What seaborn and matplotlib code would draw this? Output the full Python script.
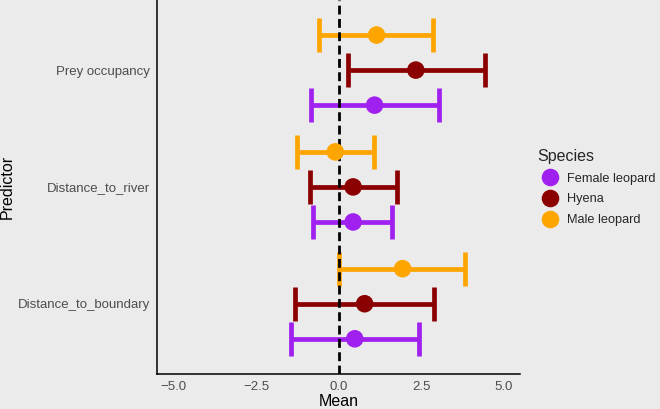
import matplotlib
matplotlib.use("Agg")
import matplotlib.pyplot as plt
import seaborn as sns
import pandas as pd

# predictors bottom -> top (ggplot coord_flip order)
predictors = ["Distance_to_boundary", "Distance_to_river", "Prey occupancy"]
species = ["Female leopard", "Hyena", "Male leopard"]

# per species: values for each predictor, same order as predictors
female_mean = [0.49, 0.44, 1.09]
female_lower = [-1.44, -0.78, -0.85]
female_upper = [2.44, 1.63, 3.05]

hyena_mean = [0.79, 0.44, 2.34]
hyena_lower = [-1.33, -0.86, 0.28]
hyena_upper = [2.89, 1.77, 4.44]

male_mean = [1.94, -0.10, 1.15]
male_lower = [0.01, -1.27, -0.60]
male_upper = [3.83, 1.07, 2.87]

x_ticks = [-5.0, -2.5, 0.0, 2.5, 5.0]

palette = {"Female leopard": "#A020F0", "Hyena": "#8B0000", "Male leopard": "#FFA500"}
dodge = {"Female leopard": -0.3, "Hyena": 0.0, "Male leopard": 0.3}

rows = []
for sp, m, lo, hi in [
    ("Female leopard", female_mean, female_lower, female_upper),
    ("Hyena", hyena_mean, hyena_lower, hyena_upper),
    ("Male leopard", male_mean, male_lower, male_upper),
]:
    for i, pred in enumerate(predictors):
        rows.append({"Predictor": pred, "Species": sp, "Mean": m[i],
                     "lower": lo[i], "upper": hi[i],
                     "ypos": i + 1 + dodge[sp]})
df = pd.DataFrame(rows)

bg = "#EBEBEB"
sns.set_theme(style="white", rc={"axes.facecolor": bg, "figure.facecolor": bg})
plt.rcParams["font.family"] = ["Liberation Sans", "DejaVu Sans"]

fig, ax = plt.subplots(figsize=(6.6, 4.09), dpi=100)
fig.subplots_adjust(left=0.238, right=0.788, bottom=0.086, top=1.0)

# confidence intervals
for _, r in df.iterrows():
    ax.errorbar(r["Mean"], r["ypos"],
                xerr=[[r["Mean"] - r["lower"]], [r["upper"] - r["Mean"]]],
                fmt="none", ecolor=palette[r["Species"]], elinewidth=3.4,
                capsize=12, capthick=3.4, zorder=2)

ax.axvline(0, color="black", lw=2.0, linestyle=(0, (3.2, 1.6)), zorder=3)

sns.scatterplot(data=df, x="Mean", y="ypos", hue="Species", hue_order=species,
                palette=palette, s=160, edgecolor="none", linewidth=0,
                ax=ax, zorder=4)

ax.set_xlim(-5.5, 5.5)
ax.set_ylim(0.4, 3.6)
ax.set_xticks(x_ticks, labels=[f"{t:.1f}".replace("-", "\u2212") for t in x_ticks])
ax.set_yticks([1, 2, 3], labels=predictors)

for side in ["top", "right"]:
    ax.spines[side].set_visible(False)
for side in ["left", "bottom"]:
    ax.spines[side].set_color("black")
    ax.spines[side].set_linewidth(1.1)

ax.tick_params(axis="both", length=3, width=0.8, color="#333333",
               labelcolor="#4D4D4D", labelsize=9.5, pad=2)
ax.set_xlabel("Mean", fontsize=11.5, color="black", labelpad=1)
ax.set_ylabel("Predictor", fontsize=11.5, color="black", labelpad=2)

handles, labels = ax.get_legend_handles_labels()
leg = ax.legend(handles, labels, title="Species", loc="upper left",
                bbox_to_anchor=(1.034, 0.615), frameon=False, fontsize=9.2,
                title_fontsize=11.5, handletextpad=0.3, labelspacing=0.68,
                borderaxespad=0)
leg._legend_box.align = "left"

plt.savefig("out.png", dpi=100)
